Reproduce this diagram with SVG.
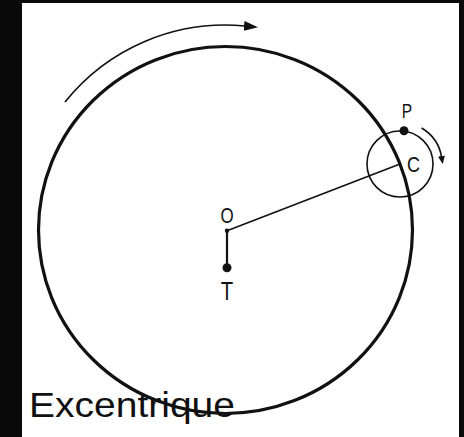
<svg xmlns="http://www.w3.org/2000/svg" width="464" height="437" viewBox="0 0 464 437">
<style>
.lbl{font-family:"Liberation Sans",Arial,sans-serif;fill:#111;text-anchor:middle}
.thin{fill:none;stroke:#111;stroke-width:1.6}
</style>
<defs>
<marker id="ahBig" viewBox="0 0 14 10" refX="1" refY="5" markerWidth="14" markerHeight="10" markerUnits="userSpaceOnUse" orient="auto">
<path d="M0,0 L14,5 L0,10 Z" fill="#111"/>
</marker>
<marker id="ahSmall" viewBox="0 0 8 7" refX="1" refY="3.5" markerWidth="8" markerHeight="7" markerUnits="userSpaceOnUse" orient="auto">
<path d="M0,0 L8,3.5 L0,7 Z" fill="#111"/>
</marker>
</defs>
<rect x="0" y="0" width="464" height="437" fill="#fff"/>
<rect x="0" y="0" width="22" height="437" fill="#0a0a0a"/>
<rect x="0" y="0" width="464" height="3" fill="#0a0a0a"/>
<rect x="459" y="0" width="5" height="437" fill="#0a0a0a"/>
<g id="deferent">
<ellipse cx="225.5" cy="230" rx="187" ry="183.5" fill="none" stroke="#111" stroke-width="3.2"/>
</g>
<g id="epicycle">
<circle cx="400" cy="164" r="33" class="thin"/>
</g>
<g id="connectors">
<line x1="227" y1="230.7" x2="400" y2="164" class="thin"/>
<line x1="227" y1="230.7" x2="227" y2="267.7" stroke="#111" stroke-width="2.2"/>
<path d="M65,102 A205,205 0 0 1 245,26" class="thin" marker-end="url(#ahBig)"/>
<path d="M421.6,128 A42,42 0 0 1 441.6,157" class="thin" stroke-width="1.8" marker-end="url(#ahSmall)"/>
</g>
<g id="O">
<circle cx="227" cy="230.7" r="2.2" fill="#111"/>
<text class="lbl" font-size="22" transform="translate(227,223) scale(0.77,1)">O</text>
</g>
<g id="T">
<circle cx="227" cy="267.7" r="4.5" fill="#111"/>
<text class="lbl" font-size="26" transform="translate(227,300) scale(0.78,1)">T</text>
</g>
<g id="P">
<circle cx="404" cy="130.7" r="4.5" fill="#111"/>
<text class="lbl" font-size="20.5" transform="translate(407,117.5) scale(0.76,1)">P</text>
</g>
<g id="C">
<text class="lbl" font-size="22" transform="translate(413.5,171.5) scale(0.82,1)">C</text>
</g>
<g id="title">
<text x="29" y="417" font-family="'Liberation Sans',Arial,sans-serif" font-size="35" fill="#111" textLength="206" lengthAdjust="spacingAndGlyphs">Excentrique</text>
</g>
</svg>
